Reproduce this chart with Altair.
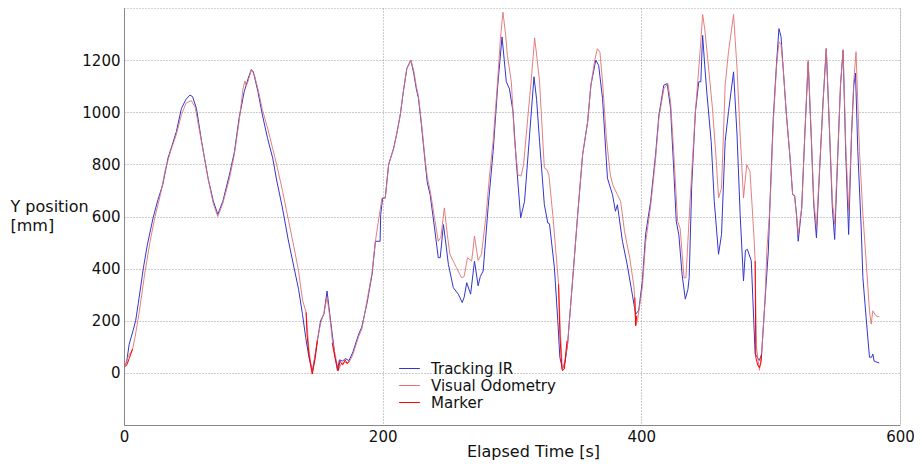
import altair as alt
import pandas as pd

# Tracking IR (blue)
ir_t = [0.5, 2, 4, 7, 9, 11, 15, 18, 22.5, 26, 30, 34, 37, 40.5, 44.4, 48, 51, 53, 56, 60, 65, 69, 72.5, 76.4,
        81.5, 85.4, 89, 93, 94.5, 96, 98.5, 100, 103.5, 107, 111, 115, 118, 122.5, 127, 131.5, 135, 138, 140.5,
        143, 145.6, 147.5, 149.5, 152, 154.6, 157, 159, 161, 163, 165, 166.6, 169, 171, 174, 177, 181.5, 183.8,
        188, 191.8, 194.4, 198, 198.5, 200, 202, 204.6, 208.5, 211, 213.6, 216, 218.7, 221.8, 224, 226, 227.7,
        230, 232.8, 234.5, 236.7, 240, 243, 244.5, 247, 248.5, 250.8, 254.6, 258.5, 261.5, 263, 265, 268, 271,
        273.8, 275.5, 277.7, 281.5, 285.4, 289, 292.3, 294, 295.6, 298, 300.8, 303.3, 306.7, 309.7, 313.6, 317,
        319, 321.3, 325, 327.7, 329, 332.8, 335.4, 337, 339, 341, 343, 347, 350.8, 354.6, 358.5, 361, 364.8, 367,
        370, 373.8, 377.7, 380, 381.5, 385.4, 389, 393, 395.6, 398, 400.8, 403.3, 407.2, 411, 413.6, 417.4, 420,
        422.6, 425, 427, 429, 431.5, 434, 436, 437, 439, 441.8, 444.4, 446, 447.4, 449, 450.8, 454, 456.4, 459.7,
        462, 464.8, 467.4, 471.3, 474, 476.4, 479, 480.5, 482, 485, 488, 491.3, 493, 495.6, 498.2, 499.5, 502,
        504.6, 506.4, 508, 509.7, 512, 515, 517, 518.5, 520, 521.3, 524, 526.4, 529, 531.5, 533.3, 535.4, 537.9,
        540.5, 543, 545.6, 547.7, 549.5, 552, 554, 556, 558, 560.3, 562.5, 564.3, 565.6, 567.4, 570, 571.3, 573.8,
        576.4, 578, 579, 580, 584]
ir_y = [30, 40, 110, 162, 200, 265, 403, 490, 595, 660, 723, 824, 870, 926, 1015, 1050, 1066, 1060, 1015, 888,
        747, 660, 608, 658, 760, 849, 977, 1080, 1104, 1130, 1164, 1155, 1080, 990, 900, 824, 740, 633, 510, 403,
        320, 225, 136, 60, 8, 60, 123, 200, 226, 314, 230, 149, 70, 9, 50, 45, 55, 47, 80, 149, 175, 270, 378,
        505, 505, 608, 671, 671, 799, 862, 920, 990, 1080, 1168, 1200, 1150, 1090, 1053, 950, 811, 730, 684,
        560, 442, 442, 569, 510, 417, 327, 302, 270, 290, 346, 302, 429, 334, 370, 391, 633, 849, 1104, 1289,
        1200, 1117, 1090, 1002, 811, 595, 658, 913, 1136, 1050, 888, 646, 575, 572, 403, 200, 60, 15, 40, 111,
        365, 608, 837, 964, 1104, 1200, 1180, 1053, 747, 684, 620, 645, 505, 417, 302, 225, 240, 353, 531, 658,
        837, 990, 1104, 1110, 1015, 786, 582, 530, 378, 283, 320, 365, 722, 1002, 1117, 1117, 1295, 1180, 1066,
        888, 658, 455, 531, 888, 1002, 1155, 913, 608, 353, 470, 474, 430, 72, 48, 72, 276, 467, 658, 977, 1193,
        1321, 1290, 1168, 1002, 824, 684, 680, 608, 505, 633, 913, 1193, 888, 646, 518, 786, 1040, 1244, 913,
        633, 512, 850, 1104, 1238, 850, 531, 913, 1104, 1150, 849, 556, 365, 212, 60, 60, 72, 45, 38]

# Visual Odometry (light red)
vo_t = [0.5, 3, 6.7, 9, 12, 16, 20, 24, 28, 32, 36, 40.5, 44.4, 48, 52, 55, 60, 65, 69, 72.5, 76.4, 81.5, 85.4,
        89, 92, 93.5, 94.5, 96, 98.5, 101, 104, 107, 111, 115, 118, 122.5, 127, 131.5, 135, 138, 140.8, 143,
        145.6, 149.5, 152, 154.6, 157, 159, 161, 165.6, 168, 171, 174, 177, 181.5, 184, 188, 191.8, 194.4, 196,
        199.5, 202, 204.6, 208.5, 211, 213.6, 216, 218.7, 221.8, 224, 226, 227.7, 230, 232.8, 234.5, 236.7,
        240.5, 243, 245, 247.7, 250, 252, 257, 261, 263, 265.6, 268.8, 271, 273.8, 276.4, 280, 282.5, 285.4, 289,
        291, 293, 295, 296.4, 299.5, 302, 304.6, 307, 309, 311, 315, 317.5, 319.5, 321.3, 325, 327, 328.5, 331.5,
        335.4, 336, 337.5, 339, 341, 343, 347, 350.8, 354.6, 358.5, 361, 364, 366, 368, 370, 373, 376, 378,
        381.5, 384, 387, 391, 394.4, 395.6, 397, 400.8, 403.3, 407.2, 411, 413.6, 417.4, 420.5, 422.6, 425, 428,
        430, 433, 434.5, 438, 441.8, 445.6, 447.4, 449, 450.8, 455, 458, 459.7, 462, 464.8, 467.4, 471.3, 474,
        476.4, 479, 481.5, 484, 487, 488, 489, 491.3, 493, 495.6, 497, 499.5, 502, 504.6, 506.4, 508, 509.7, 512,
        515, 517, 518.5, 520, 521.3, 524, 526.4, 529, 531.5, 533.3, 535.4, 537.9, 540.5, 543, 545.6, 547.7,
        549.5, 552, 554, 556, 558, 560.3, 562.5, 564.3, 566, 568.7, 571.3, 573.8, 576.4, 577.7, 579, 581.5, 584]
vo_y = [25, 60, 92, 150, 240, 380, 500, 600, 680, 780, 850, 915, 990, 1035, 1045, 1020, 885, 745, 650, 600, 650,
        745, 840, 965, 1090, 1120, 1100, 1120, 1164, 1140, 1080, 1010, 940, 860, 800, 700, 590, 480, 390, 280,
        232, 90, -4, 125, 190, 230, 290, 220, 130, 9, 35, 40, 40, 70, 140, 170, 280, 385, 505, 560, 671, 671, 799,
        862, 920, 990, 1080, 1168, 1200, 1160, 1100, 1060, 960, 820, 750, 700, 582, 505, 520, 633, 530, 455,
        404, 365, 370, 442, 429, 525, 432, 455, 608, 750, 888, 1129, 1280, 1384, 1300, 1219, 1117, 888, 760, 755,
        800, 913, 1130, 1285, 1200, 1117, 786, 780, 760, 608, 378, 340, 150, 10, 50, 111, 365, 608, 837, 964,
        1104, 1200, 1244, 1230, 1117, 900, 760, 720, 684, 658, 543, 442, 327, 181, 200, 330, 500, 640, 820, 980,
        1090, 1110, 1040, 850, 582, 555, 365, 365, 688, 1002, 1244, 1375, 1320, 1232, 1015, 811, 671, 709, 1104,
        1232, 1375, 1168, 913, 671, 799, 773, 531, 429, 100, 10, 72, 276, 467, 640, 960, 1180, 1270, 1260, 1168,
        1002, 824, 684, 680, 600, 530, 633, 913, 1200, 900, 660, 560, 786, 1040, 1245, 920, 660, 570, 850, 1104,
        1240, 880, 620, 913, 1120, 1232, 849, 608, 430, 238, 187, 238, 219, 215]

# Marker (thick red), in separate segments
mk_seg = [1, 1, 1, 1,
          2, 2, 2, 2, 2, 2, 2, 2,
          3, 3, 3, 3, 3, 3, 3, 3,
          4, 4, 4, 4, 4, 4,
          5, 5, 5,
          6, 6, 6, 6, 6, 6]
mk_t = [0.5, 2, 4, 6.7,
        140.8, 141.5, 143, 145, 145.6, 146.5, 148, 149.5,
        161, 163, 165.6, 167, 169, 171, 172.5, 174,
        336, 337, 338.5, 339, 340.5, 342.5,
        395, 395.6, 396.5,
        488, 488.5, 490, 491.3, 492.5, 493]
mk_y = [25, 28, 55, 92,
        232, 150, 70, 10, -4, 20, 60, 125,
        115, 60, 9, 45, 30, 50, 35, 45,
        340, 150, 20, 9, 15, 123,
        289, 181, 220,
        429, 60, 30, 20, 40, 72]

series_names = ["Tracking IR", "Visual Odometry", "Marker"]
series_colors = ["#3535cc", "#e07272", "#ff0000"]
series_widths = [1, 1, 2.5]

df_ir = pd.DataFrame({"t": ir_t, "y": ir_y, "series": "Tracking IR", "seg": 0})
df_vo = pd.DataFrame({"t": vo_t, "y": vo_y, "series": "Visual Odometry", "seg": 0})
df_mk = pd.DataFrame({"t": mk_t, "y": mk_y, "series": "Marker", "seg": mk_seg})

x_enc = alt.X("t:Q", scale=alt.Scale(domain=[0, 600], nice=False, zero=False),
              axis=alt.Axis(values=[0, 200, 400, 600], title="Elapsed Time [s]", format="d",
                            labelFlush=False, titleX=409, titleY=31, titleBaseline="alphabetic"))
y_enc = alt.Y("y:Q", scale=alt.Scale(domain=[-200, 1400], nice=False, zero=False),
              axis=alt.Axis(values=[0, 200, 400, 600, 800, 1000, 1200], title=["Y position", "[mm]"],
                            format="d", labelFlush=False,
                            titleAngle=0, titleAlign="left", titleX=-114, titleY=203,
                            titleBaseline="alphabetic", titleLineHeight=19))

legend_kw = dict(title=None, orient="none", legendX=277, legendY=352,
                 symbolType="M-1.3,0H1.3", symbolSize=256, padding=0,
                 labelOffset=13, labelFontSize=15, rowPadding=0,
                 labelColor="#111", symbolOpacity=1)
color_enc = alt.Color("series:N", scale=alt.Scale(domain=series_names, range=series_colors),
                      legend=alt.Legend(**legend_kw))
sw_enc = alt.StrokeWidth("series:N", scale=alt.Scale(domain=series_names, range=series_widths),
                         legend=alt.Legend(**legend_kw))

def layer(df, opacity=1.0):
    return alt.Chart(df).mark_line(interpolate="linear", strokeOpacity=opacity).encode(
        x=x_enc, y=y_enc, color=color_enc, strokeWidth=sw_enc, detail="seg:N")

chart = alt.layer(layer(df_ir), layer(df_vo, 0.9), layer(df_mk)).properties(
    width=776, height=417,
    autosize=alt.AutoSizeParams(type="none"),
    padding={"left": 116, "top": 0, "right": 14, "bottom": 35},
).configure(font="DejaVu Sans").configure_view(
    stroke="#aaaaaa", strokeDash=[1, 2], strokeWidth=1
).configure_axis(
    grid=True, gridColor="#999999", gridDash=[1, 2], gridWidth=1,
    domainColor="#888888", domainWidth=1, ticks=False,
    labelFontSize=15, labelColor="#111111", labelPadding=4,
    titleFontSize=16, titleFontWeight="normal", titleColor="#111111"
)

chart.save("out.html", embed_options={"renderer": "svg", "actions": False})
